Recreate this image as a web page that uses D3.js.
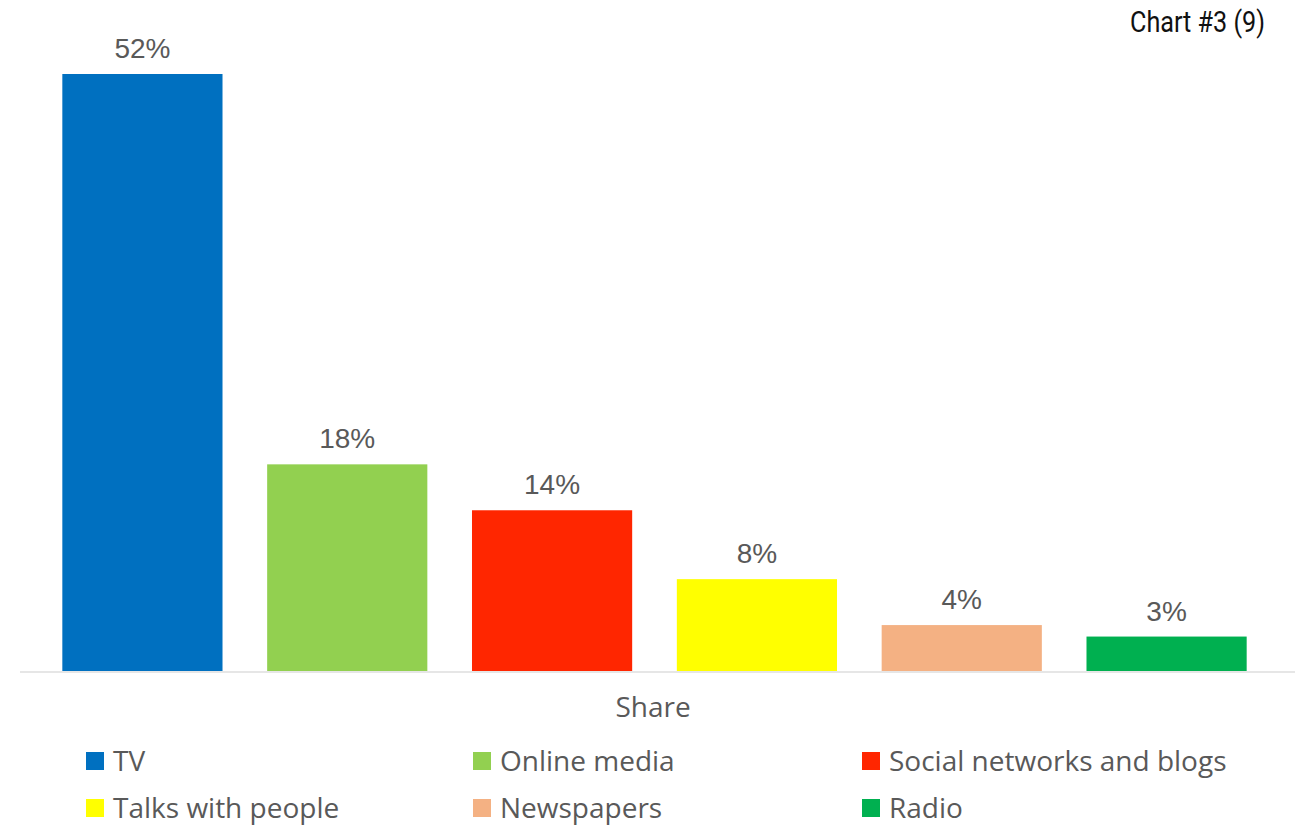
<!DOCTYPE html>
<html>
<head>
<meta charset="utf-8">
<script src="https://cdn.jsdelivr.net/npm/d3@7"></script>
<style>
  html, body { margin: 0; padding: 0; background: #ffffff; }
  svg { display: block; }
</style>
</head>
<body>
<svg id="chart" width="1308" height="828"></svg>
<script>
// Media sources by share of respondents
const categories = ["TV", "Online media", "Social networks and blogs", "Talks with people", "Newspapers", "Radio"];
const shares = [52, 18, 14, 8, 4, 3];
const colors = ["#0070c0", "#92d050", "#ff2600", "#ffff00", "#f4b183", "#00b050"];
const axisTitle = "Share";
const chartTitle = "Chart #3 (9)";

const svg = d3.select("#chart");

const x = d3.scaleBand()
  .domain(categories)
  .range([40, 1269])
  .paddingInner(0.218)
  .paddingOuter(0.109);

const y = d3.scaleLinear()
  .domain([0, 52])
  .range([671, 74]);

// baseline
svg.append("line")
  .attr("x1", 20).attr("x2", 1295)
  .attr("y1", y(0) + 1).attr("y2", y(0) + 1)
  .attr("stroke", "#e6e6e6").attr("stroke-width", 2);

// bars
svg.selectAll("rect.bar")
  .data(categories)
  .join("rect")
  .attr("class", "bar")
  .attr("x", d => x(d))
  .attr("width", x.bandwidth())
  .attr("y", (d, i) => y(shares[i]))
  .attr("height", (d, i) => y(0) - y(shares[i]))
  .attr("fill", (d, i) => colors[i]);

// value labels
svg.selectAll("text.val")
  .data(categories)
  .join("text")
  .attr("class", "val")
  .attr("x", d => x(d) + x.bandwidth() / 2)
  .attr("y", (d, i) => y(shares[i]) - 16)
  .attr("text-anchor", "middle")
  .attr("font-family", "'Liberation Sans', Arial, sans-serif")
  .attr("font-size", 28)
  .attr("fill", "#595959")
  .text((d, i) => shares[i] + "%");

// axis title
svg.append("text")
  .attr("x", 653).attr("y", 717)
  .attr("text-anchor", "middle")
  .attr("font-family", "'Open Sans', sans-serif")
  .attr("font-size", 28)
  .attr("fill", "#595959")
  .text(axisTitle);

// legend: three columns, two rows
const legX = [86, 473, 862];
const legY = [761, 808];
const leg = svg.selectAll("g.leg")
  .data(categories)
  .join("g")
  .attr("class", "leg")
  .attr("transform", (d, i) => `translate(${legX[i % 3]},${legY[Math.floor(i / 3)]})`);

leg.append("rect")
  .attr("x", 0).attr("y", -9)
  .attr("width", 18).attr("height", 18)
  .attr("fill", (d, i) => colors[i]);

leg.append("text")
  .attr("x", 27).attr("y", 0)
  .attr("dy", "0.36em")
  .attr("font-family", "'Open Sans', sans-serif")
  .attr("font-size", 28)
  .attr("fill", "#595959")
  .text(d => d);

// title in corner
svg.append("text")
  .attr("x", 1265).attr("y", 32)
  .attr("text-anchor", "end")
  .attr("font-family", "Roboto, sans-serif")
  .attr("font-size", 30)
  .attr("textLength", 135)
  .attr("lengthAdjust", "spacingAndGlyphs")
  .attr("fill", "#111111")
  .text(chartTitle);
</script>
</body>
</html>
